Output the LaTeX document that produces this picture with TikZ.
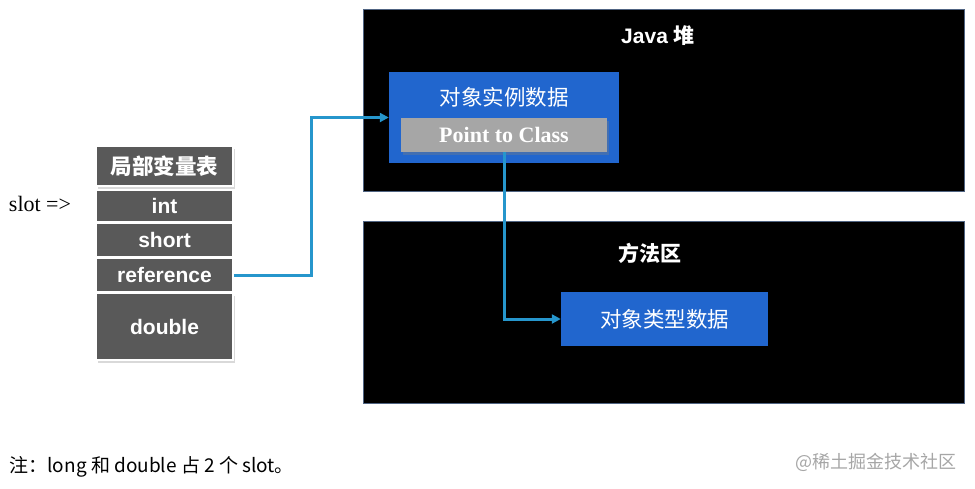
\documentclass[tikz,border=0pt]{standalone}
\usepackage{fontspec}
\setmainfont{Liberation Sans}
\newfontfamily\cjk{Noto Sans CJK SC}
\newfontfamily\serifen{Liberation Serif}
\usetikzlibrary{arrows.meta,shadows}

\definecolor{slotgray}{RGB}{89,89,89}
\definecolor{objblue}{RGB}{33,102,206}
\definecolor{linkblue}{RGB}{38,150,204}
\definecolor{classgray}{RGB}{166,166,166}
\definecolor{areaedge}{RGB}{80,100,130}

\tikzset{
  slotrow/.style={draw=white, line width=1.5pt, fill=slotgray, text=white, minimum width=137, inner sep=0,
    font=\fontsize{21}{25}\selectfont\bfseries},
  area/.style={draw=areaedge, line width=0.8pt, fill=black, minimum width=601, minimum height=182, inner sep=0},
  areatitle/.style={text=white, font=\fontsize{21}{25}\selectfont\bfseries},
  databox/.style={fill=objblue, text=white, inner sep=0, font=\fontsize{21.5}{25}\selectfont\cjk},
  link/.style={draw=linkblue, line width=3pt, -{Triangle[length=9pt,width=9pt]}}
}

\begin{document}
\begin{tikzpicture}[x=1pt, y=-1pt]
    \useasboundingbox (0,0) rectangle (975,488);

    % Java heap
    \node[area] (heap) at (663.5,100) {};
    \node[areatitle] (heaptitle) at (658,36) {Java {\cjk 堆}};

    % Method area
    \node[area] (method) at (663.5,312) {};
    \node[areatitle, font=\fontsize{21}{25}\selectfont\cjk\bfseries] (methodtitle) at (650,253) {方法区};

    % Instance data
    \node[databox, minimum width=230, minimum height=91] (instbox) at (504,117.5) {};
    \node[databox] (insttext) at (504,97) {对象实例数据};
    \node[fill=classgray, text=white, minimum width=206, minimum height=34, inner sep=0,
      drop shadow={shadow xshift=2pt, shadow yshift=-3pt, opacity=0.35},
      font=\fontsize{22}{26}\selectfont\serifen\bfseries] (ptc) at (504,135) {Point to Class};

    % Type data
    \node[databox, minimum width=207, minimum height=54] (typebox) at (664.5,319) {对象类型数据};

    % Local variable table
    \node[slotrow, minimum height=40, font=\fontsize{21.5}{25}\selectfont\cjk\bfseries,
      drop shadow={shadow xshift=2pt, shadow yshift=-3pt, opacity=0.3}] (header) at (164.5,166) {局部变量表};
    \node[slotrow, minimum height=32] (introw) at (164.5,206) {int};
    \node[slotrow, minimum height=34] (shortrow) at (164.5,240) {short};
    \node[slotrow, minimum height=34] (refrow) at (164.5,275) {reference};
    \node[slotrow, minimum height=67, drop shadow={shadow xshift=2pt, shadow yshift=-3pt, opacity=0.3}] (doublerow) at (164.5,326.5) {double};

    \node[font=\fontsize{22}{26}\selectfont\serifen] (slot) at (40,204) {slot =>};

    % Connections
    \coordinate (bendref) at (311,200);
    \draw[link] (refrow.east) -| (bendref) |- (instbox.west);
    \draw[link] (ptc.south) |- (typebox.west);

    % Notes
    \node[anchor=west, font=\fontsize{19}{23}\selectfont\cjk] (note) at (6,467) {注：long 和 double 占 2 个 slot。};
    \node[anchor=east, text=black!35, font=\fontsize{18}{22}\selectfont\cjk] (mark) at (960,462) {@稀土掘金技术社区};
\end{tikzpicture}
\end{document}
